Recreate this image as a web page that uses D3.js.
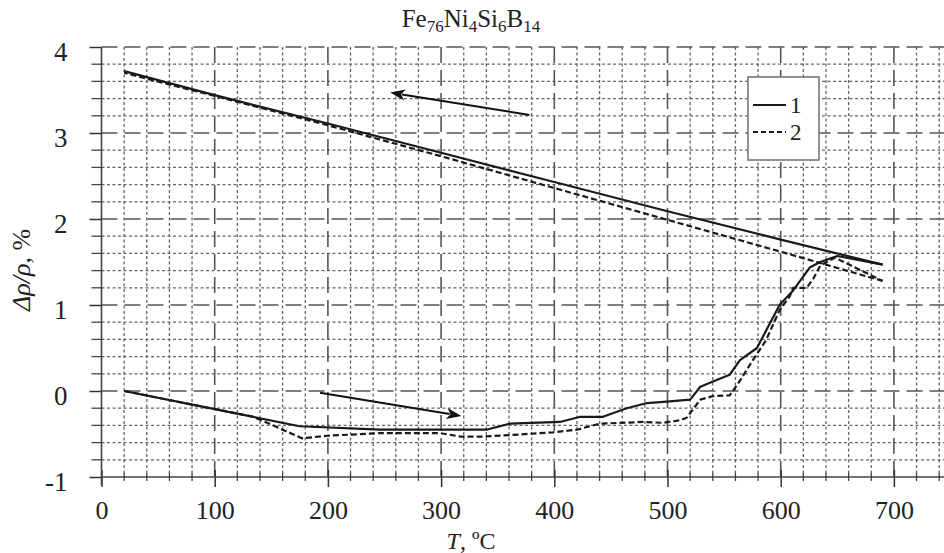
<!DOCTYPE html>
<html>
<head>
<meta charset="utf-8">
<script src="https://cdn.jsdelivr.net/npm/d3@7/dist/d3.min.js"></script>
<style>
  html, body { margin: 0; padding: 0; background: #fff; }
  svg { display: block; }
  text { font-family: "Liberation Serif", "DejaVu Serif", serif; fill: #222; }
</style>
</head>
<body>
<svg id="chart" width="944" height="553"></svg>
<script>
// ---------- data ----------
const xMajorTicks = [0, 100, 200, 300, 400, 500, 600, 700];
const yMajorTicks = [-1, 0, 1, 2, 3, 4];

// Series 1 (solid) – heating branch
const heat1T = [20, 100, 175, 246, 340, 361, 405, 423, 443, 464, 482, 502, 520, 529, 544, 555, 564, 579, 599, 611, 626, 635, 650, 690];
const heat1V = [0.00, -0.21, -0.41, -0.45, -0.45, -0.38, -0.36, -0.30, -0.30, -0.20, -0.14, -0.12, -0.10, 0.05, 0.13, 0.19, 0.36, 0.50, 1.00, 1.17, 1.44, 1.50, 1.57, 1.47];
// Series 1 (solid) – cooling branch
const cool1T = [690, 600, 500, 400, 300, 200, 100, 20];
const cool1V = [1.47, 1.76, 2.09, 2.43, 2.77, 3.11, 3.44, 3.72];

// Series 2 (dashed) – heating branch
const heat2T = [20, 100, 134, 150, 177, 200, 246, 299, 317, 337, 364, 399, 420, 440, 479, 496, 511, 517, 529, 540, 555, 563, 575, 587, 599, 608, 611, 623, 629, 635, 648, 690];
const heat2V = [0.00, -0.21, -0.30, -0.39, -0.55, -0.52, -0.49, -0.49, -0.53, -0.53, -0.51, -0.48, -0.45, -0.38, -0.36, -0.37, -0.34, -0.31, -0.10, -0.06, -0.05, 0.10, 0.35, 0.59, 0.94, 1.10, 1.20, 1.20, 1.31, 1.46, 1.55, 1.28];
// Series 2 (dashed) – cooling branch
const cool2T = [690, 600, 500, 400, 300, 200, 100, 20];
const cool2V = [1.28, 1.62, 1.99, 2.36, 2.73, 3.09, 3.43, 3.70];

const seriesNames = ["1", "2"];

// arrows [fromT, fromV, toT, toV]
const arrowsData = [
  [378, 3.21, 255, 3.47],
  [193, -0.02, 318, -0.29]
];

// ---------- drawing ----------
const W = 944, H = 553;
const FONT = "'Liberation Serif', 'DejaVu Serif', serif";
const svg = d3.select("#chart");
const x = d3.scaleLinear().domain([0, 750]).range([101.5, 950.5]);
const y = d3.scaleLinear().domain([-1, 4]).range([477, 47]);
const xRight = W;
const fmt = d => String(d); // plain hyphen-minus like the reference

const gridColor = "#666";
const xMinor = d3.range(20, 750, 20).filter(v => v % 100 !== 0);
const yMinor = d3.range(-8, 41, 2).map(v => v / 10).filter(v => Math.abs(v - Math.round(v)) > 1e-6);

const grid = svg.append("g");
grid.selectAll("line.vmin").data(xMinor).enter().append("line")
  .attr("x1", d => x(d)).attr("x2", d => x(d))
  .attr("y1", y(4)).attr("y2", y(-1))
  .attr("stroke", gridColor).attr("stroke-width", 1.3).attr("stroke-dasharray", "3,2.5");
grid.selectAll("line.hmin").data(yMinor).enter().append("line")
  .attr("x1", x(0)).attr("x2", xRight)
  .attr("y1", d => y(d)).attr("y2", d => y(d))
  .attr("stroke", gridColor).attr("stroke-width", 1.3).attr("stroke-dasharray", "3,2.5");
grid.selectAll("line.vmaj").data(xMajorTicks.filter(d => d > 0)).enter().append("line")
  .attr("x1", d => x(d)).attr("x2", d => x(d))
  .attr("y1", y(4)).attr("y2", y(-1))
  .attr("stroke", "#555").attr("stroke-width", 1.6).attr("stroke-dasharray", "16,7");
grid.selectAll("line.hmaj").data(yMajorTicks.filter(d => d > -1)).enter().append("line")
  .attr("x1", x(0)).attr("x2", xRight)
  .attr("y1", d => y(d)).attr("y2", d => y(d))
  .attr("stroke", "#555").attr("stroke-width", 1.6).attr("stroke-dasharray", "16,7");

// axes
const xAxis = svg.append("g").attr("transform", `translate(0,${y(-1)})`)
  .call(d3.axisBottom(x).tickValues(xMajorTicks).tickSize(10).tickPadding(10).tickFormat(fmt));
xAxis.attr("font-family", null).attr("font-size", null);
xAxis.select(".domain").remove();
xAxis.selectAll(".tick line").attr("y1", -7).attr("stroke", "#333").attr("stroke-width", 1.5);
xAxis.selectAll(".tick text").style("font-family", FONT).style("font-size", "26px").attr("fill", "#222").attr("dy", "0.85em");
svg.append("line").attr("x1", x(0)).attr("x2", xRight).attr("y1", y(-1)).attr("y2", y(-1))
  .attr("stroke", "#444").attr("stroke-width", 1.6);
svg.append("g").selectAll("line").data(xMinor).enter().append("line")
  .attr("x1", d => x(d)).attr("x2", d => x(d))
  .attr("y1", y(-1) - 4).attr("y2", y(-1) + 4)
  .attr("stroke", "#444").attr("stroke-width", 1.3);

const yAxis = svg.append("g").attr("transform", `translate(${x(0)},0)`)
  .call(d3.axisLeft(y).tickValues(yMajorTicks).tickSize(12).tickPadding(22).tickFormat(fmt));
yAxis.attr("font-family", null).attr("font-size", null);
yAxis.select(".domain").remove();
yAxis.selectAll(".tick line").attr("stroke", "#333").attr("stroke-width", 1.5);
yAxis.selectAll(".tick text").style("font-family", FONT).style("font-size", "27px").attr("fill", "#222").attr("dy", "0.5em");
svg.append("line").attr("x1", x(0)).attr("x2", x(0)).attr("y1", y(4)).attr("y2", y(-1) + 8)
  .attr("stroke", "#444").attr("stroke-width", 1.6);
svg.append("g").selectAll("line").data(yMinor).enter().append("line")
  .attr("x1", x(0) - 10).attr("x2", x(0))
  .attr("y1", d => y(d)).attr("y2", d => y(d))
  .attr("stroke", "#444").attr("stroke-width", 1.3);

// curves
const line = d3.line().x(d => x(d[0])).y(d => y(d[1]));
const zip = (a, b) => a.map((v, i) => [v, b[i]]);
const curves = [
  { pts: zip(heat1T, heat1V), dash: null },
  { pts: zip(cool1T, cool1V), dash: null },
  { pts: zip(heat2T, heat2V), dash: "6,3" },
  { pts: zip(cool2T, cool2V), dash: "6,3" }
];
svg.append("g").selectAll("path").data(curves).enter().append("path")
  .attr("d", d => line(d.pts))
  .attr("fill", "none").attr("stroke", "#1a1a1a").attr("stroke-width", 2.2)
  .attr("stroke-linejoin", "round")
  .attr("stroke-dasharray", d => d.dash);

// arrows
const ag = svg.append("g");
arrowsData.forEach(a => {
  const x1 = x(a[0]), y1 = y(a[1]), x2 = x(a[2]), y2 = y(a[3]);
  const ang = Math.atan2(y2 - y1, x2 - x1);
  const L = 15, Wd = 5.5;
  const bx = x2 - L * Math.cos(ang), by = y2 - L * Math.sin(ang);
  ag.append("line").attr("x1", x1).attr("y1", y1).attr("x2", bx + 3 * Math.cos(ang)).attr("y2", by + 3 * Math.sin(ang))
    .attr("stroke", "#111").attr("stroke-width", 2);
  const p = [
    [x2, y2],
    [bx - Wd * Math.sin(ang), by + Wd * Math.cos(ang)],
    [bx + 4 * Math.cos(ang), by + 4 * Math.sin(ang)],
    [bx + Wd * Math.sin(ang), by - Wd * Math.cos(ang)]
  ];
  ag.append("path").attr("d", "M" + p.map(q => q.join(",")).join("L") + "Z").attr("fill", "#111");
});

// legend
const lg = svg.append("g");
lg.append("rect").attr("x", 748).attr("y", 77).attr("width", 71).attr("height", 83)
  .attr("fill", "#fff").attr("stroke", "#777").attr("stroke-width", 1.6);
seriesNames.forEach((n, i) => {
  const yy = 105 + i * 27;
  lg.append("line").attr("x1", 753).attr("x2", 786).attr("y1", yy).attr("y2", yy)
    .attr("stroke", "#1a1a1a").attr("stroke-width", 2.2).attr("stroke-dasharray", i === 1 ? "5,3" : null);
  lg.append("text").attr("x", 790).attr("y", yy + 8).style("font-size", "23px").text(n);
});

// title
const title = svg.append("text").attr("x", 471).attr("y", 27).attr("text-anchor", "middle").style("font-size", "25px");
[["Fe", false], ["76", true], ["Ni", false], ["4", true], ["Si", false], ["6", true], ["B", false], ["14", true]].forEach(([t, sub], i) => {
  const ts = title.append("tspan").text(t);
  if (sub) ts.style("font-size", "17px").attr("dy", 5);
  else if (i > 0) ts.attr("dy", -5);
});

// x label
const xl = svg.append("text").attr("x", 471).attr("y", 549).attr("text-anchor", "middle").style("font-size", "24px");
xl.append("tspan").attr("font-style", "italic").text("T");
xl.append("tspan").text(", ºC");

// y label
const yl = svg.append("text").attr("transform", "translate(30,270) rotate(-90)").attr("text-anchor", "middle").style("font-size", "26px");
yl.append("tspan").attr("font-style", "italic").text("Δρ/ρ");
yl.append("tspan").text(", %");
</script>
</body>
</html>
